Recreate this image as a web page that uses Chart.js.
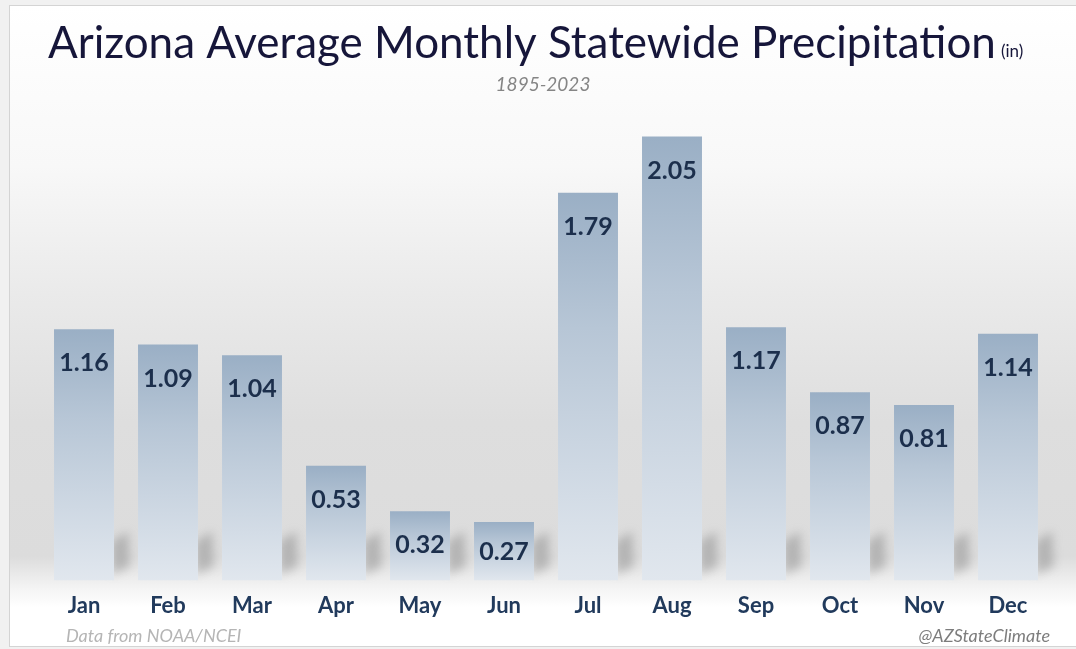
<!DOCTYPE html>
<html lang="en">
<head>
  <meta charset="UTF-8">
  <title>Arizona Average Monthly Statewide Precipitation</title>
  <script src="https://cdn.jsdelivr.net/npm/chart.js"></script>
  <style>
    body { margin: 0; background: #f1f1f1; width: 1076px; height: 649px; overflow: hidden; }
    #frame {
      position: absolute; left: 9px; top: 5px; width: 1066px; height: 640px;
      border: 1px solid #d4d4d4;
      background: linear-gradient(to bottom, #ffffff 0%, #f8f8f8 25%, #eaeaea 45%, #dedede 65%, #dcdcdc 86%, #f4f4f4 91%, #ffffff 94%);
    }
    #wrap { position: absolute; left: 0; top: 0; width: 1076px; height: 649px; }
  </style>
</head>
<body>
  <div id="frame"></div>
  <div id="wrap"><canvas id="precipChart"></canvas></div>
  <script>
    // Values
    const months = ['Jan', 'Feb', 'Mar', 'Apr', 'May', 'Jun', 'Jul', 'Aug', 'Sep', 'Oct', 'Nov', 'Dec'];
    const precipIn = [1.16, 1.09, 1.04, 0.53, 0.32, 0.27, 1.79, 2.05, 1.17, 0.87, 0.81, 1.14];

    const titleText = 'Arizona Average Monthly Statewide Precipitation';
    const unitText = '(in)';
    const subtitleText = '1895-2023';
    const sourceText = 'Data from NOAA/NCEI';
    const handleText = '@AZStateClimate';

    // vertical gradient for each bar, darker at the top
    function barFill(context) {
      const chart = context.chart;
      const yScale = chart.scales.y;
      if (!chart.chartArea || !yScale) return '#b4c3d3';
      const top = yScale.getPixelForValue(precipIn[context.dataIndex]);
      const base = yScale.getPixelForValue(0);
      if (!isFinite(top) || !isFinite(base) || top === base) return '#b4c3d3';
      const g = chart.ctx.createLinearGradient(0, top, 0, base);
      g.addColorStop(0, '#9aafc5');
      g.addColorStop(0.35, '#b7c6d6');
      g.addColorStop(1, '#e1e7ee');
      return g;
    }

    // soft shadow at the lower right of each bar
    const shadowPlugin = {
      id: 'barShadow',
      beforeDatasetsDraw(chart) {
        const ctx = chart.ctx;
        ctx.save();
        ctx.filter = 'blur(5px)';
        chart.getDatasetMeta(0).data.forEach(bar => {
          const right = bar.x + bar.width / 2;
          const top = Math.max(bar.y, bar.base - 55);
          ctx.fillStyle = 'rgba(120,120,120,0.4)';
          ctx.beginPath();
          ctx.moveTo(right - 2, top + 16);
          ctx.lineTo(right + 14, top + 6);
          ctx.lineTo(right + 16, bar.base - 14);
          ctx.lineTo(right - 2, bar.base - 6);
          ctx.closePath();
          ctx.fill();
        });
        ctx.restore();
      }
    };

    // titles, value labels and footer texts
    const textPlugin = {
      id: 'texts',
      afterDatasetsDraw(chart) {
        const ctx = chart.ctx;
        ctx.save();

        // value labels inside the top of the bars
        ctx.font = 'bold 25px Lato';
        ctx.fillStyle = '#1c2f4c';
        ctx.textAlign = 'center';
        ctx.textBaseline = 'middle';
        chart.getDatasetMeta(0).data.forEach((bar, i) => {
          const y = Math.min(bar.y + 34, bar.base - 29);
          ctx.fillText(precipIn[i].toFixed(2), bar.x, y);
        });

        // main title, fitted to the width seen in the picture
        let size = 40;
        ctx.font = size + 'px Lato';
        size = size * 948 / ctx.measureText(titleText).width;
        ctx.font = size + 'px Lato';
        ctx.fillStyle = '#16163a';
        ctx.textAlign = 'left';
        ctx.textBaseline = 'alphabetic';
        ctx.fillText(titleText, 48, 58);
        ctx.font = '17px Lato';
        ctx.fillText(unitText, 1001, 57);

        ctx.font = 'italic 19px Lato';
        ctx.fillStyle = '#858585';
        ctx.textAlign = 'center';
        ctx.textBaseline = 'middle';
        ctx.fillText(subtitleText, 543, 85);

        ctx.font = 'italic 18px Lato';
        ctx.fillStyle = '#b5b5b5';
        ctx.textAlign = 'left';
        ctx.fillText(sourceText, 66, 636);
        ctx.fillStyle = '#7d7d7d';
        ctx.textAlign = 'right';
        ctx.fillText(handleText, 1050, 636);

        ctx.restore();
      }
    };

    const ctx = document.getElementById('precipChart').getContext('2d');
    const precipChart = new Chart(ctx, {
      type: 'bar',
      data: {
        labels: months,
        datasets: [{
          data: precipIn,
          backgroundColor: barFill,
          borderWidth: 0,
          barPercentage: 0.714,
          categoryPercentage: 1.0
        }]
      },
      options: {
        responsive: true,
        maintainAspectRatio: false,
        animation: false,
        layout: { padding: { left: 42, right: 26, top: 104, bottom: 26 } },
        plugins: {
          legend: { display: false },
          tooltip: { enabled: false },
          title: { display: false }
        },
        scales: {
          x: {
            grid: { display: false },
            border: { display: false },
            ticks: {
              color: '#213a5c',
              font: { family: 'Lato', size: 22, weight: 'bold' },
              padding: 4
            }
          },
          y: {
            display: false,
            min: 0,
            max: 2.2
          }
        }
      },
      plugins: [shadowPlugin, textPlugin]
    });
  </script>
</body>
</html>
